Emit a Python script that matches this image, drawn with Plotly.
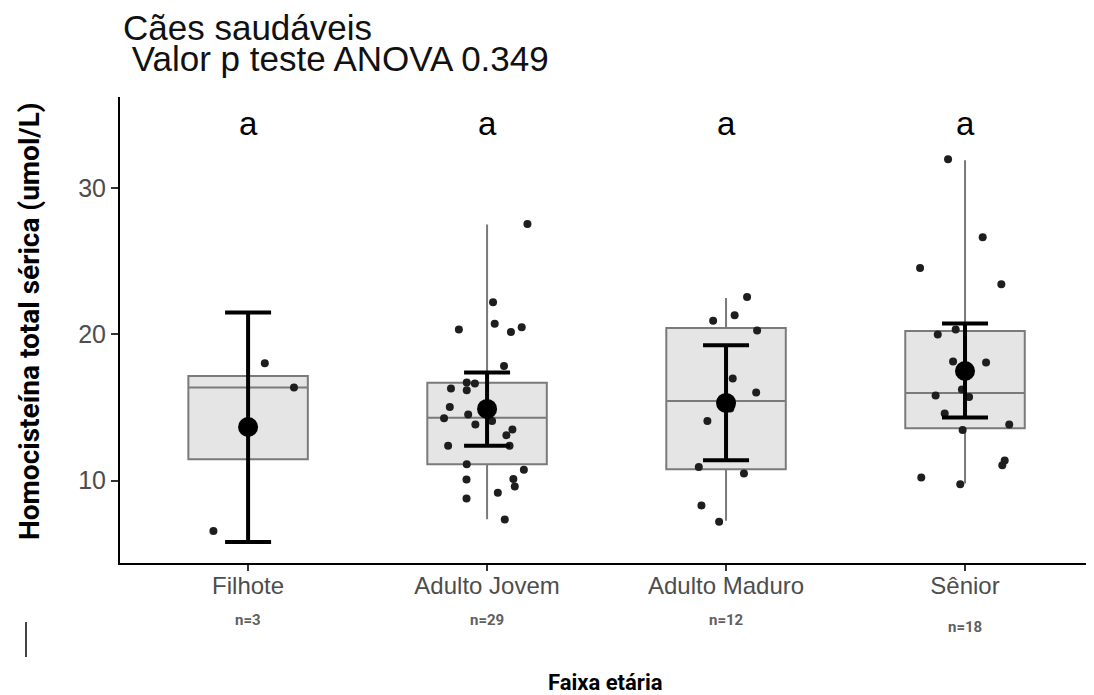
import plotly.graph_objects as go

# ---------------- data ----------------
categories = ["Filhote", "Adulto Jovem", "Adulto Maduro", "Sênior"]
n_counts = [3, 29, 12, 18]
letters = ["a", "a", "a", "a"]

# box statistics
q1 = [11.47, 11.13, 10.78, 13.58]
median = [16.36, 14.29, 15.45, 15.99]
q3 = [17.15, 16.68, 20.43, 20.23]
lower_fence = [6.57, 7.37, 7.26, 9.81]
upper_fence = [18.02, 27.49, 22.48, 31.88]

# mean and interval
means = [13.67, 14.90, 15.31, 17.49]
err_low = [5.82, 12.38, 11.40, 14.31]
err_high = [21.48, 17.39, 19.25, 20.73]

# individual observations and their horizontal jitter (category units)
filhote_vals = [18.02, 16.36, 6.57]
filhote_jit = [0.070, 0.192, -0.145]

adulto_jovem_vals = [27.53, 22.18, 20.32, 20.71, 20.16, 20.48, 17.84, 16.70, 16.63, 16.29,
                     16.18, 15.04, 14.52, 14.27, 14.08, 13.84, 13.50, 13.11, 12.38, 12.38,
                     11.13, 10.74, 10.08, 10.12, 9.60, 9.17, 8.79, 7.35, 14.81]
adulto_jovem_jit = [0.169, 0.025, -0.118, 0.032, 0.100, 0.145, 0.071, -0.085, -0.051, -0.151,
                    -0.085, -0.156, -0.079, -0.180, 0.021, -0.049, 0.106, 0.081, -0.163, 0.094,
                    -0.085, 0.154, -0.086, 0.110, 0.116, 0.045, -0.086, 0.074, 0.0]

adulto_maduro_vals = [22.55, 20.93, 21.30, 20.25, 16.98, 16.02, 14.93, 14.08, 10.94, 10.49, 8.31, 7.20]
adulto_maduro_jit = [0.088, -0.054, 0.036, 0.130, 0.028, 0.126, 0.018, -0.078, -0.114, 0.075, -0.103, -0.029]

senior_vals = [31.95, 26.62, 24.53, 23.41, 19.98, 20.32, 18.14, 18.07, 16.23, 15.82,
               15.72, 14.59, 13.84, 13.47, 11.38, 11.06, 10.22, 9.76]
senior_jit = [-0.071, 0.074, -0.188, 0.152, -0.114, -0.039, -0.050, 0.088, -0.013, -0.123,
              0.017, -0.085, 0.185, -0.010, 0.166, 0.156, -0.183, -0.020]

group_vals = [filhote_vals, adulto_jovem_vals, adulto_maduro_vals, senior_vals]
group_jit = [filhote_jit, adulto_jovem_jit, adulto_maduro_jit, senior_jit]

title_line1 = "Cães saudáveis"
title_line2 = "\u00a0Valor p teste ANOVA 0.349"
y_title = "Homocisteína total sérica (umol/L)"
x_title = "Faixa etária"

# ---------------- figure ----------------
pos = list(range(len(categories)))
fig = go.Figure()

fig.add_trace(go.Box(
    x=pos, q1=q1, median=median, q3=q3,
    lowerfence=lower_fence, upperfence=upper_fence,
    width=0.5, whiskerwidth=0, boxpoints=False,
    fillcolor="#e5e5e5", line=dict(color="#7a7a7a", width=2),
    hoverinfo="skip", showlegend=False,
))

px_all, py_all = [], []
for i, (vals, jit) in enumerate(zip(group_vals, group_jit)):
    px_all += [i + j for j in jit]
    py_all += vals
fig.add_trace(go.Scatter(
    x=px_all, y=py_all, mode="markers",
    marker=dict(size=8, color="#1e1e1e"),
    showlegend=False, hoverinfo="skip",
))

fig.add_trace(go.Scatter(
    x=pos, y=means, mode="markers",
    marker=dict(size=20, color="black"),
    error_y=dict(type="data", symmetric=False,
                 array=[h - m for h, m in zip(err_high, means)],
                 arrayminus=[m - l for m, l in zip(means, err_low)],
                 color="black", thickness=4, width=23),
    showlegend=False, hoverinfo="skip",
))

annotations = []
for i, (lab, n) in enumerate(zip(letters, n_counts)):
    annotations.append(dict(x=i, y=34.4, xref="x", yref="y", text=lab, showarrow=False,
                            xanchor="center", yanchor="middle",
                            font=dict(family="Liberation Sans, Arial", size=33, color="black")))
    annotations.append(dict(x=i, y=-0.122 if i < 3 else -0.137, xref="x", yref="paper",
                            text=f"n={n}", showarrow=False, xanchor="center", yanchor="middle",
                            font=dict(family="Roboto, Arial", size=15, color="#606060", weight="bold")))

annotations.append(dict(x=0.5, y=-0.2575, xref="paper", yref="paper", text=x_title,
                        showarrow=False, xanchor="center", yanchor="middle",
                        font=dict(family="Roboto, Arial", size=22, color="black", weight="bold")))
annotations.append(dict(x=-0.094, y=0.519, xref="paper", yref="paper", text=y_title,
                        showarrow=False, textangle=-90, xanchor="center", yanchor="middle",
                        font=dict(family="Roboto, Arial", size=28, color="black", weight="bold")))

# title as two lines placed individually
annotations.append(dict(x=0.001, y=1.150, xref="paper", yref="paper", text=title_line1,
                        showarrow=False, xanchor="left", yanchor="middle", align="left",
                        font=dict(family="Liberation Sans, Arial", size=35, color="#111111")))
annotations.append(dict(x=0.0, y=1.083, xref="paper", yref="paper", text=title_line2,
                        showarrow=False, xanchor="left", yanchor="middle", align="left",
                        font=dict(family="Liberation Sans, Arial", size=35, color="#111111")))

# the page body adds an 8px offset, so the figure is sized 8px smaller
fig.update_layout(
    width=1086, height=687,
    margin=dict(l=112, r=4, t=89, b=132),
    paper_bgcolor="white", plot_bgcolor="white",
    xaxis=dict(range=[-0.536, 3.523], tickvals=pos, ticktext=categories,
               showline=True, linecolor="black", linewidth=2,
               ticks="outside", ticklen=6, tickwidth=2, tickcolor="#333333",
               showgrid=False, zeroline=False, ticklabelstandoff=-6,
               tickfont=dict(family="Liberation Sans, Arial", size=24, color="#4d4d4d")),
    yaxis=dict(range=[4.38, 36.2], tickvals=[10, 20, 30],
               showline=True, linecolor="black", linewidth=2,
               ticks="outside", ticklen=7, tickwidth=2, tickcolor="#333333",
               showgrid=False, zeroline=False,
               tickfont=dict(family="Liberation Sans, Arial", size=25, color="#4d4d4d")),
    annotations=annotations,
    shapes=[dict(type="line", xref="paper", yref="paper",
                 x0=(26 - 120) / 970, x1=(26 - 120) / 970,
                 y0=(563 - 622) / 466, y1=(563 - 657) / 466,
                 line=dict(color="#444444", width=2))],
)

fig.write_html("out.html")
